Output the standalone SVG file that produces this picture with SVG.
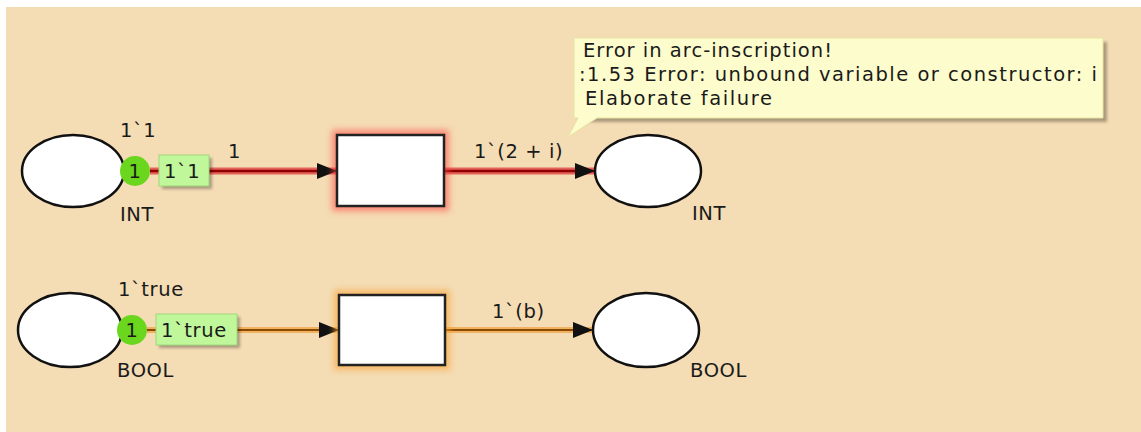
<svg xmlns="http://www.w3.org/2000/svg" width="1141" height="432" viewBox="0 0 1141 432">
<defs>
<style>
text{font-family:"DejaVu Sans",Verdana,sans-serif;font-size:19.5px;letter-spacing:0.6px;fill:#1a1a1a}
.place{fill:#fff;stroke:#111;stroke-width:2.5}
.trans{fill:#fff;stroke:#222;stroke-width:2.5}
.tok{fill:#6ad61e}
.mark{fill:#bff79a;stroke:#9fd87a;stroke-width:1}
.tip{font-size:19.5px;letter-spacing:0}
</style>
<filter id="glowR" x="-20%" y="-20%" width="140%" height="140%"><feGaussianBlur stdDeviation="3"/></filter>
<filter id="sh" x="-10%" y="-10%" width="130%" height="140%"><feGaussianBlur stdDeviation="1.5"/></filter>
<marker id="arr" markerWidth="20" markerHeight="16" refX="20" refY="8" orient="auto" markerUnits="userSpaceOnUse"><path d="M0,0 L20,8 L0,16 Z" fill="#111"/></marker>
</defs>
<rect x="0" y="0" width="1141" height="432" fill="#fff"/>
<rect x="6" y="7" width="1135" height="425" fill="#f4dcb4"/>

<g id="connectors">
<g id="arc1">
<line x1="150" y1="171" x2="337" y2="171" stroke="#e03a3a" stroke-width="7" opacity="0.75"/>
<line x1="150" y1="171" x2="337" y2="171" stroke="#900000" stroke-width="2.5" marker-end="url(#arr)"/>
</g>
<g id="arc2">
<line x1="444" y1="171" x2="595" y2="171" stroke="#e03a3a" stroke-width="7" opacity="0.75"/>
<line x1="444" y1="171" x2="595" y2="171" stroke="#900000" stroke-width="2.5" marker-end="url(#arr)"/>
</g>
<g id="arc3">
<line x1="147" y1="330" x2="339" y2="330" stroke="#f0a040" stroke-width="6" opacity="0.7"/>
<line x1="147" y1="330" x2="339" y2="330" stroke="#8a4a00" stroke-width="2" marker-end="url(#arr)"/>
</g>
<g id="arc4">
<line x1="445" y1="330" x2="593" y2="330" stroke="#f0a040" stroke-width="6" opacity="0.7"/>
<line x1="445" y1="330" x2="593" y2="330" stroke="#8a4a00" stroke-width="2" marker-end="url(#arr)"/>
</g>
<text x="228" y="158">1</text>
<text x="474" y="158">1`(2 + i)</text>
<text x="492" y="318">1`(b)</text>
</g>

<g id="place-int-in">
<ellipse class="place" cx="73" cy="171" rx="51" ry="36"/>
<text x="120" y="137">1`1</text>
<text x="120" y="221">INT</text>
<circle class="tok" cx="135" cy="171" r="15"/>
<text x="135" y="178" text-anchor="middle">1</text>
<rect x="162" y="158" width="50" height="31" fill="#000" opacity="0.3" filter="url(#sh)"/>
<rect class="mark" x="159" y="155" width="50" height="31"/>
<text x="164" y="178">1`1</text>
</g>

<g id="trans-1">
<rect x="337" y="135" width="107" height="71" fill="none" stroke="#ff4040" stroke-width="10" opacity="0.55" filter="url(#glowR)"/>
<rect class="trans" x="337" y="135" width="107" height="71" stroke="#200000"/>
</g>

<g id="place-int-out">
<ellipse class="place" cx="648" cy="171" rx="53" ry="36"/>
<text x="692" y="220">INT</text>
</g>

<g id="place-bool-in">
<ellipse class="place" cx="70" cy="330" rx="52" ry="37"/>
<text x="118" y="296">1`true</text>
<text x="117" y="377">BOOL</text>
<circle class="tok" cx="132" cy="330" r="15"/>
<text x="132" y="337" text-anchor="middle">1</text>
<rect x="159" y="317" width="81" height="31" fill="#000" opacity="0.3" filter="url(#sh)"/>
<rect class="mark" x="156" y="314" width="81" height="31"/>
<text x="161" y="337">1`true</text>
</g>

<g id="trans-2">
<rect x="339" y="295" width="106" height="70" fill="none" stroke="#f8a030" stroke-width="10" opacity="0.6" filter="url(#glowR)"/>
<rect class="trans" x="339" y="295" width="106" height="70" stroke="#3a2000"/>
</g>

<g id="place-bool-out">
<ellipse class="place" cx="646" cy="330" rx="53" ry="37"/>
<text x="690" y="377">BOOL</text>
</g>

<g id="tooltip">
<rect x="578" y="42" width="529" height="80" fill="#000" opacity="0.3" filter="url(#sh)"/>
<path d="M574,38 H1103 V118 H597 L568,137 L578,118 H574 Z" fill="#fdfccc" stroke="#e8e4a0" stroke-width="1"/>
<text class="tip" x="583" y="57" textLength="249" lengthAdjust="spacing">Error in arc-inscription!</text>
<text class="tip" x="579" y="81" textLength="518" lengthAdjust="spacing">:1.53 Error: unbound variable or constructor: i</text>
<text class="tip" x="585" y="105" textLength="187" lengthAdjust="spacing">Elaborate failure</text>
</g>
</svg>
